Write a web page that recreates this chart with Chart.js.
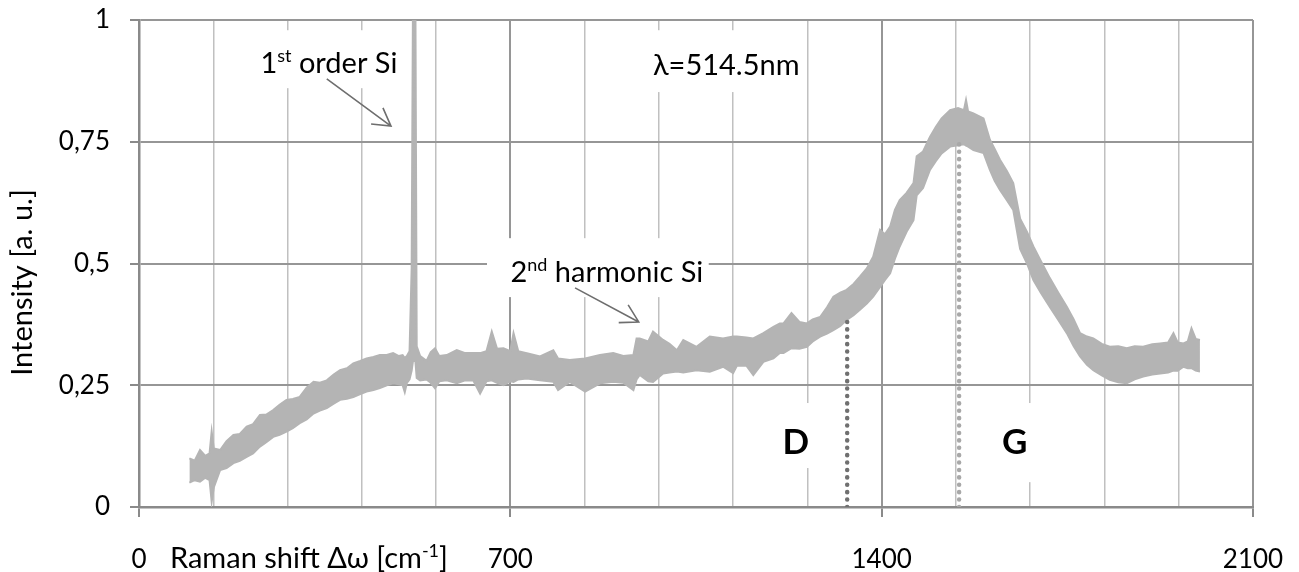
<!DOCTYPE html>
<html>
<head>
<meta charset="utf-8">
<title>Raman spectrum</title>
<script src="https://cdn.jsdelivr.net/npm/chart.js@4.4.1/dist/chart.umd.min.js"></script>
<style>
  html, body { margin: 0; padding: 0; background: #ffffff; }
  #wrap { width: 1299px; height: 572px; }
</style>
</head>
<body>
<div id="wrap"><canvas id="spectrum" width="1299" height="572"></canvas></div>
<script>
// Raman shift positions (cm^-1) and the upper / lower edges of the noisy spectrum trace
const ramanShift = [
  95, 105, 115, 125, 133, 137, 141, 153, 165, 178, 190, 203, 215, 228, 240, 253, 265, 278, 290, 303,
  316, 329, 341, 354, 367, 379, 392, 404, 417, 429, 442, 454, 467, 479, 490, 497, 501, 505, 510, 514,
  516.5, 521, 523.5, 530, 542, 550, 558, 566, 580, 599, 615, 630, 643, 655, 665, 675, 687, 700, 706, 715,
  731, 756, 781, 790, 812, 841, 869, 894, 913, 932, 938, 944, 960, 969, 988, 1000, 1014, 1026, 1051, 1076,
  1101, 1120, 1127, 1145, 1158, 1177, 1196, 1208, 1215, 1230, 1245, 1259, 1270, 1284, 1297, 1309, 1322, 1334, 1347, 1359,
  1372, 1384, 1397, 1406, 1416, 1425, 1434, 1447, 1460, 1466, 1478, 1491, 1502, 1513, 1529, 1544, 1555, 1559, 1563, 1573,
  1592, 1604, 1613, 1623, 1636, 1648, 1661, 1674, 1686, 1700, 1717, 1733, 1749, 1762, 1774, 1787, 1799, 1815, 1830, 1846,
  1862, 1877, 1893, 1910, 1925, 1940, 1950, 1958, 1969, 1977, 1984, 1992, 2000
];
const upperEdge = [
  0.100, 0.095, 0.117, 0.105, 0.110, 0.155, 0.120, 0.117, 0.135, 0.148, 0.150, 0.165, 0.170, 0.189, 0.190, 0.199, 0.210, 0.220, 0.222, 0.226,
  0.245, 0.257, 0.255, 0.260, 0.272, 0.281, 0.285, 0.295, 0.300, 0.305, 0.308, 0.312, 0.312, 0.316, 0.310, 0.312, 0.306, 0.310, 0.320, 0.490,
  1.050, 1.050, 0.330, 0.310, 0.300, 0.318, 0.326, 0.310, 0.312, 0.322, 0.316, 0.316, 0.316, 0.320, 0.360, 0.325, 0.326, 0.320, 0.357, 0.320,
  0.316, 0.309, 0.322, 0.305, 0.302, 0.305, 0.312, 0.316, 0.310, 0.312, 0.346, 0.346, 0.340, 0.360, 0.343, 0.335, 0.322, 0.343, 0.329, 0.350,
  0.346, 0.350, 0.350, 0.348, 0.346, 0.357, 0.370, 0.377, 0.377, 0.398, 0.380, 0.377, 0.385, 0.390, 0.410, 0.432, 0.440, 0.446, 0.458, 0.473,
  0.490, 0.514, 0.569, 0.560, 0.576, 0.610, 0.630, 0.645, 0.665, 0.720, 0.730, 0.760, 0.780, 0.798, 0.815, 0.819, 0.815, 0.836, 0.812, 0.808,
  0.798, 0.754, 0.735, 0.713, 0.690, 0.665, 0.592, 0.565, 0.535, 0.505, 0.470, 0.440, 0.411, 0.385, 0.357, 0.350, 0.346, 0.335, 0.329, 0.330,
  0.326, 0.330, 0.329, 0.334, 0.336, 0.338, 0.357, 0.338, 0.336, 0.340, 0.367, 0.345, 0.343
];
const lowerEdge = [
  0.050, 0.055, 0.052, 0.060, 0.055, 0.011, 0.040, 0.076, 0.080, 0.090, 0.095, 0.103, 0.110, 0.124, 0.133, 0.144, 0.148, 0.155, 0.162, 0.172,
  0.180, 0.192, 0.198, 0.203, 0.212, 0.220, 0.222, 0.226, 0.232, 0.237, 0.240, 0.244, 0.250, 0.254, 0.252, 0.250, 0.236, 0.255, 0.262, 0.280,
  0.300, 0.300, 0.265, 0.260, 0.262, 0.255, 0.244, 0.258, 0.260, 0.254, 0.260, 0.260, 0.233, 0.258, 0.260, 0.255, 0.250, 0.258, 0.257, 0.262,
  0.264, 0.260, 0.257, 0.240, 0.257, 0.237, 0.254, 0.257, 0.255, 0.240, 0.262, 0.271, 0.258, 0.257, 0.274, 0.276, 0.278, 0.276, 0.281, 0.278,
  0.288, 0.275, 0.290, 0.290, 0.271, 0.298, 0.305, 0.316, 0.316, 0.326, 0.325, 0.329, 0.340, 0.350, 0.356, 0.363, 0.372, 0.384, 0.394, 0.405,
  0.418, 0.432, 0.452, 0.466, 0.480, 0.510, 0.535, 0.565, 0.589, 0.640, 0.655, 0.692, 0.710, 0.726, 0.740, 0.743, 0.745, 0.742, 0.740, 0.733,
  0.727, 0.692, 0.670, 0.651, 0.630, 0.610, 0.530, 0.500, 0.466, 0.440, 0.411, 0.384, 0.357, 0.330, 0.309, 0.292, 0.281, 0.270, 0.261, 0.256,
  0.254, 0.262, 0.268, 0.272, 0.274, 0.276, 0.280, 0.280, 0.288, 0.285, 0.285, 0.280, 0.278
];

// D and G band markers: position (cm^-1) and height of the dotted marker
const bandNames = ['D', 'G'];
const bandShift = [1335, 1546];
const bandTop = [0.385, 0.745];

// Axis ranges and tick spacing
const xRange = [0, 2100];
const xGridStep = 140;
const xLabelStep = 700;
const yRange = [0, 1];
const yStep = 0.25;

const FONT = "Lato, 'Liberation Sans', sans-serif";
const TRACE = 'rgb(180,180,180)';
const TEXT_SIZE = 29;

// Text annotations, placed in data coordinates: [x, y]
const notes = [
  { parts: [{ t: '1' }, { t: 'st', sup: true }, { t: ' order Si' }], at: [358, 0.912], box: [205, 507, 0.979, 0.860] },
  { parts: [{ t: 'λ=514.5nm' }], at: [1107, 0.908], box: [944, 1252, 0.979, 0.852] },
  { parts: [{ t: '2' }, { t: 'nd', sup: true }, { t: ' harmonic Si' }], at: [882, 0.483], box: [656, 1074, 0.552, 0.431] }
];
const bandLabelPos = [[1238, 0.135], [1651, 0.135]];
const bandLabelBox = [[1199, 1274, 0.2135, 0.080], [1604, 1698, 0.2135, 0.051]];
const arrows = [
  [[354, 0.879], [475, 0.782]],
  [[822, 0.450], [942, 0.380]]
];

const toPoints = ys => ramanShift.map((x, i) => ({ x, y: ys[i] }));

function richWidth(ctx, parts, size, bold) {
  const w8 = bold ? 'bold ' : '';
  let width = 0;
  for (const p of parts) {
    ctx.font = w8 + (p.sup ? Math.round(size * 0.62) : size) + 'px ' + FONT;
    width += ctx.measureText(p.t).width;
  }
  return width;
}

function drawRich(ctx, parts, cx, cy, size, bold) {
  const w8 = bold ? 'bold ' : '';
  const base = w8 + size + 'px ' + FONT;
  const sup = w8 + Math.round(size * 0.62) + 'px ' + FONT;
  let x = cx - richWidth(ctx, parts, size, bold) / 2;
  const baseY = cy + size * 0.36;
  ctx.textAlign = 'left';
  ctx.textBaseline = 'alphabetic';
  for (const p of parts) {
    ctx.font = p.sup ? sup : base;
    ctx.fillText(p.t, x, p.sup ? baseY - size * 0.38 : baseY);
    x += ctx.measureText(p.t).width;
  }
}

function drawArrow(ctx, x0, y0, x1, y1) {
  const ang = Math.atan2(y1 - y0, x1 - x0);
  const len = 20, spread = Math.PI / 6;
  ctx.beginPath();
  ctx.moveTo(x0, y0);
  ctx.lineTo(x1, y1);
  ctx.moveTo(x1 - len * Math.cos(ang - spread), y1 - len * Math.sin(ang - spread));
  ctx.lineTo(x1, y1);
  ctx.lineTo(x1 - len * Math.cos(ang + spread), y1 - len * Math.sin(ang + spread));
  ctx.stroke();
}

const annotationPlugin = {
  id: 'spectrumNotes',
  beforeDatasetsDraw(chart) {
    const { ctx, scales: { x, y } } = chart;
    ctx.save();
    ctx.fillStyle = '#ffffff';
    const boxes = notes.map(n => n.box).concat(bandLabelBox);
    for (const b of boxes) {
      const x0 = x.getPixelForValue(b[0]), x1 = x.getPixelForValue(b[1]);
      const y0 = y.getPixelForValue(b[2]), y1 = y.getPixelForValue(b[3]);
      ctx.fillRect(x0, y0, x1 - x0, y1 - y0);
    }
    ctx.restore();
  },
  afterDatasetsDraw(chart) {
    const { ctx, scales: { x, y } } = chart;
    ctx.save();
    ctx.fillStyle = '#000000';
    for (const n of notes) {
      drawRich(ctx, n.parts, x.getPixelForValue(n.at[0]), y.getPixelForValue(n.at[1]), TEXT_SIZE, false);
    }
    bandNames.forEach((name, i) => {
      drawRich(ctx, [{ t: name }], x.getPixelForValue(bandLabelPos[i][0]), y.getPixelForValue(bandLabelPos[i][1]), 35, true);
    });
    ctx.strokeStyle = '#6e6e6e';
    ctx.lineWidth = 1.6;
    for (const a of arrows) {
      drawArrow(ctx, x.getPixelForValue(a[0][0]), y.getPixelForValue(a[0][1]),
                     x.getPixelForValue(a[1][0]), y.getPixelForValue(a[1][1]));
    }
    ctx.restore();
  },
  afterDraw(chart) {
    const { ctx, chartArea } = chart;
    ctx.save();
    ctx.fillStyle = '#000000';
    // horizontal axis title, set between the first two tick labels
    const parts = [{ t: 'Raman shift Δω [cm' }, { t: '-1', sup: true }, { t: ']' }];
    const width = richWidth(ctx, parts, TEXT_SIZE, false);
    drawRich(ctx, parts, chartArea.left + 31 + width / 2, 558, TEXT_SIZE, false);
    // vertical axis title
    ctx.translate(22 + TEXT_SIZE * 0.36, (chartArea.top + chartArea.bottom) / 2 + 19);
    ctx.rotate(-Math.PI / 2);
    ctx.font = TEXT_SIZE + 'px ' + FONT;
    ctx.textAlign = 'center';
    ctx.textBaseline = 'alphabetic';
    ctx.fillText('Intensity [a. u.]', 0, 0);
    ctx.restore();
  }
};

const isMajor = v => Math.abs(v % xLabelStep) < 1e-6;

new Chart(document.getElementById('spectrum'), {
  type: 'line',
  data: {
    datasets: [
      {
        label: 'D band', data: [{ x: bandShift[0], y: 0 }, { x: bandShift[0], y: bandTop[0] }],
        borderColor: 'rgb(112,112,112)', borderWidth: 4.5, borderDash: [0.1, 7.3], borderCapStyle: 'round',
        pointRadius: 0, fill: false, order: -1
      },
      {
        label: 'G band', data: [{ x: bandShift[1], y: 0 }, { x: bandShift[1], y: bandTop[1] }],
        borderColor: 'rgb(168,168,168)', borderWidth: 4.5, borderDash: [0.1, 7.3], borderCapStyle: 'round',
        pointRadius: 0, fill: false, order: -1
      },
      {
        label: 'spectrum (upper)', data: toPoints(upperEdge),
        borderColor: TRACE, borderWidth: 2, pointRadius: 0, fill: false, tension: 0, order: 1
      },
      {
        label: 'spectrum (lower)', data: toPoints(lowerEdge),
        borderColor: TRACE, backgroundColor: TRACE, borderWidth: 2, pointRadius: 0, fill: '-1', tension: 0, order: 1
      }
    ]
  },
  options: {
    responsive: false,
    animation: false,
    events: [],
    layout: { padding: { top: 20, right: 46, left: 0, bottom: 0 } },
    plugins: { legend: { display: false }, tooltip: { enabled: false } },
    scales: {
      x: {
        type: 'linear', min: xRange[0], max: xRange[1],
        afterFit: s => { s.height = 65; s.paddingLeft = 0; s.paddingRight = 0; },
        grid: {
          color: c => (c.tick && isMajor(c.tick.value)) ? 'rgb(150,150,150)' : 'rgb(192,192,192)',
          lineWidth: c => (c.tick && isMajor(c.tick.value)) ? 2 : 1.5,
          tickLength: 10,
          tickColor: c => (c.tick && isMajor(c.tick.value)) ? 'rgb(138,138,138)' : 'rgba(0,0,0,0)',
          tickWidth: 2
        },
        border: { color: 'rgb(138,138,138)', width: 2.5 },
        ticks: {
          stepSize: xGridStep, autoSkip: false, maxRotation: 0, padding: 27,
          color: '#000000', font: { family: FONT, size: 26 },
          callback: v => isMajor(v) ? String(v) : ''
        }
      },
      y: {
        type: 'linear', min: yRange[0], max: yRange[1],
        afterFit: s => { s.width = 139; s.paddingTop = 0; s.paddingBottom = 0; },
        grid: { color: 'rgb(150,150,150)', lineWidth: 2, tickLength: 9, tickColor: 'rgb(138,138,138)' },
        border: { color: 'rgb(138,138,138)', width: 2.5 },
        ticks: {
          stepSize: yStep, padding: 20, color: '#000000', font: { family: FONT, size: 26 },
          callback: v => String(v).replace('.', ',')
        }
      }
    }
  },
  plugins: [annotationPlugin]
});
</script>
</body>
</html>
